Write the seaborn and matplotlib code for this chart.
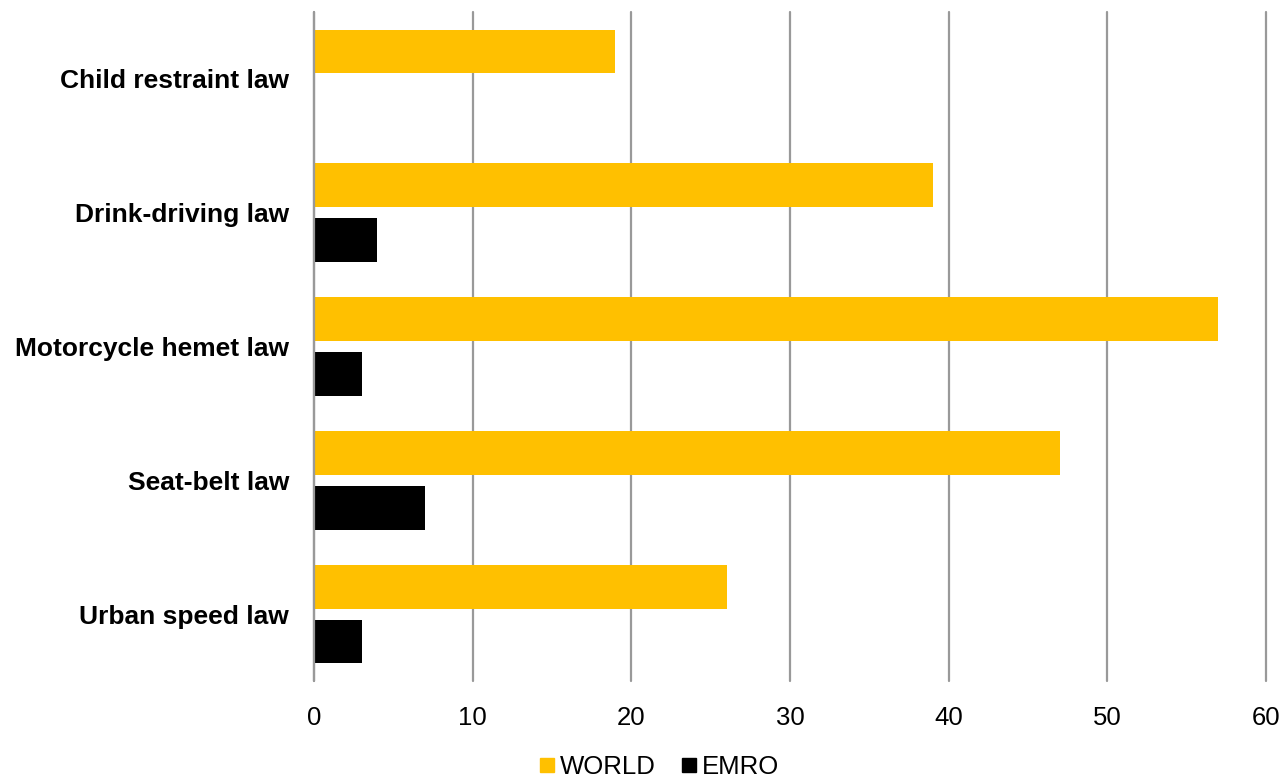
import matplotlib
matplotlib.use("Agg")
import matplotlib.pyplot as plt
import seaborn as sns
import pandas as pd
from matplotlib.lines import Line2D

# Road safety laws: number of countries meeting best practice
laws = ["Child restraint law", "Drink-driving law", "Motorcycle hemet law",
        "Seat-belt law", "Urban speed law"]
world = [19, 39, 57, 47, 26]
emro = [0, 4, 3, 7, 3]
series = ["WORLD", "EMRO"]
colors = {"WORLD": "#FFC000", "EMRO": "#000000"}
xticks = [0, 10, 20, 30, 40, 50, 60]

df = pd.DataFrame({
    "law": laws * 2,
    "value": world + emro,
    "region": ["WORLD"] * len(laws) + ["EMRO"] * len(laws),
})

sns.set_style("white")
plt.rcParams["font.family"] = ["Liberation Sans", "DejaVu Sans"]
plt.rcParams["text.color"] = "#000000"
plt.rcParams["xtick.color"] = "#000000"
plt.rcParams["ytick.color"] = "#000000"

W, H = 1284, 779
fig = plt.figure(figsize=(W / 100, H / 100), dpi=100)
ax = fig.add_axes([314 / W, 1 - 681 / H, (1266 - 314) / W, (681 - 12) / H])

sns.barplot(data=df, y="law", x="value", hue="region", order=laws,
            hue_order=series, palette=colors, orient="h",
            width=0.82, gap=0.2, dodge=True, saturation=1,
            edgecolor="none", linewidth=0, legend=False, ax=ax, zorder=3)

ax.set_xlim(0, 60)
ax.set_ylim(len(laws) - 0.5, -0.5)
ax.set_xticks(xticks)
ax.set_xticklabels([str(t) for t in xticks], fontsize=18.5, color="#000000")
ax.tick_params(axis="x", length=0, pad=18)
ax.tick_params(axis="y", length=0, pad=18)
for lab in ax.get_yticklabels():
    lab.set_fontweight("bold")
    lab.set_fontsize(19)
    lab.set_color("#000000")

ax.grid(axis="x", color="#999999", linewidth=1.6, zorder=0)
ax.grid(axis="y", visible=False)
ax.set_axisbelow(True)
for gl in ax.xaxis.get_gridlines():
    gl.set_clip_on(False)
# category axis line at zero, drawn over the bar bases
ax.axvline(0, color="#999999", linewidth=1.6, zorder=4, clip_on=False)
for s in ax.spines.values():
    s.set_visible(False)
ax.set_xlabel("")
ax.set_ylabel("")

handles = [Line2D([0], [0], marker="s", linestyle="none", markersize=10,
                  markerfacecolor=colors[s], markeredgecolor=colors[s])
           for s in series]
fig.legend(handles, series, loc="center", bbox_to_anchor=(658 / W, 1 - 767 / H),
           ncol=2, frameon=False, fontsize=18.5, handletextpad=0.1,
           columnspacing=0.9, handlelength=0.8, borderaxespad=0,
           labelcolor="#000000")

fig.savefig("out.png", dpi=100, facecolor="white")
